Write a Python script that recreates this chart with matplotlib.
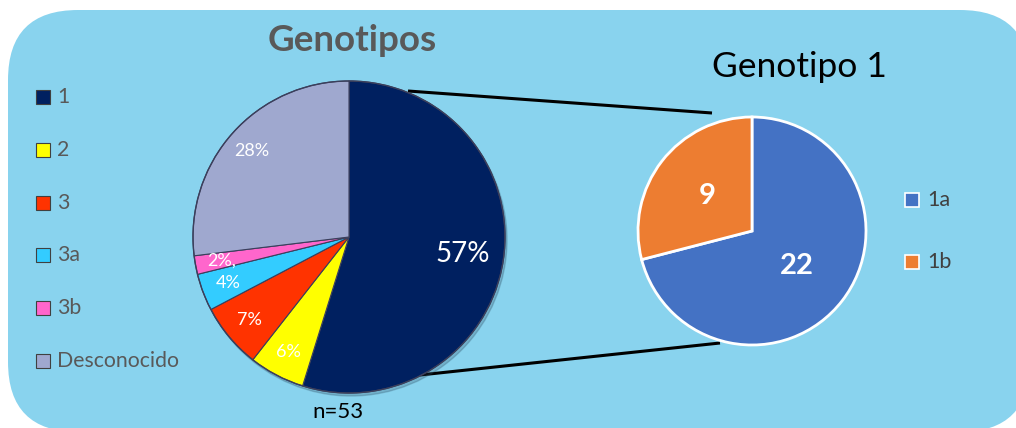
import matplotlib.pyplot as plt
import numpy as np
from matplotlib.patches import FancyBboxPatch, Rectangle, Circle

plt.rcParams['font.family'] = ['Lato', 'DejaVu Sans']

# Genotipos (porcentaje de pacientes, n=53)
genotipos = ['1', '2', '3', '3a', '3b', 'Desconocido']
porcentajes = [57, 6, 7, 4, 2, 28]
etiquetas = ['57%', '6%', '7%', '4%', '2%,', '28%']
colores = ['#002060', '#FFFF00', '#FF3300', '#33CCFF', '#FF66CC', '#9FA8CF']

# Subtipos del genotipo 1 (número de casos)
subtipos = ['1a', '1b']
casos = [22, 9]
colores_sub = ['#4472C4', '#ED7D31']

W, H = 1016, 428
fig = plt.figure(figsize=(W / 100, H / 100), dpi=100)
ax = fig.add_axes([0, 0, 1, 1])


def Y(y):
    return H - y


# fondo redondeado
bg = FancyBboxPatch((8, Y(432)), 1022, 422, boxstyle='round,pad=0,rounding_size=70',
                    facecolor='#89D3EE', edgecolor='none', zorder=0)
ax.add_patch(bg)

# líneas que unen ambos gráficos
ax.plot([408, 712], [Y(91), Y(113)], color='black', lw=2.2, zorder=1, solid_capstyle='butt')
ax.plot([420, 720], [Y(375), Y(343)], color='black', lw=2.2, zorder=1, solid_capstyle='butt')

# gráfico principal
c1, r1 = (349, Y(237)), 156
ax.add_patch(Circle((c1[0] + 2, c1[1] - 3), r1, color='#2a4a60', alpha=0.25, zorder=1.5))
wedges, _ = ax.pie(porcentajes, colors=colores, center=c1, radius=r1, startangle=90,
                   counterclock=False, frame=True,
                   wedgeprops=dict(edgecolor='#3b3f5c', linewidth=0.8, zorder=2))
ax.add_patch(Circle(c1, r1, fill=False, edgecolor='#3b3f5c', lw=1.0, zorder=3))
for w, txt in zip(wedges, etiquetas):
    ang = np.deg2rad((w.theta1 + w.theta2) / 2)
    big = txt == '57%'
    d = 0.74 if big else 0.83
    ax.text(c1[0] + d * r1 * np.cos(ang), c1[1] + d * r1 * np.sin(ang), txt,
            color='white', fontsize=20 if big else 13, ha='center', va='center', zorder=4)

ax.text(352, Y(40), 'Genotipos', fontsize=26.5, fontweight='bold', color='#595959',
        ha='center', va='center')
ax.text(338, Y(412), 'n=53', fontsize=16, color='black', ha='center', va='center')

# leyenda del gráfico principal
for i, (g, col) in enumerate(zip(genotipos, colores)):
    yc = Y(97 + i * 52.8)
    ax.add_patch(Rectangle((36, yc - 7), 14, 14, facecolor=col, edgecolor='#404040', lw=0.8))
    ax.text(57, yc, g, fontsize=15.3, color='#595959', ha='left', va='center')

# gráfico del genotipo 1
c2, r2 = (752, Y(231)), 114
wedges2, _ = ax.pie(casos, colors=colores_sub, center=c2, radius=r2, startangle=90,
                    counterclock=False, frame=True,
                    wedgeprops=dict(edgecolor='white', linewidth=2, zorder=2))
for w, n in zip(wedges2, casos):
    ang = np.deg2rad((w.theta1 + w.theta2) / 2)
    ax.text(c2[0] + 0.5 * r2 * np.cos(ang), c2[1] + 0.5 * r2 * np.sin(ang), str(n),
            color='white', fontsize=21, fontweight='bold', ha='center', va='center', zorder=4)

ax.text(799, Y(67), 'Genotipo 1', fontsize=25.5, color='black', ha='center', va='center')

for i, (s, col) in enumerate(zip(subtipos, colores_sub)):
    yc = Y(200 + i * 62)
    ax.add_patch(Rectangle((905, yc - 7), 14, 14, facecolor=col, edgecolor='white', lw=1.2))
    ax.text(927, yc, s, fontsize=15.5, color='#404040', ha='left', va='center')

ax.set_xlim(0, W)
ax.set_ylim(0, H)
ax.set_aspect('auto')
ax.axis('off')
fig.patch.set_facecolor('white')
fig.savefig('out.png', dpi=100)
